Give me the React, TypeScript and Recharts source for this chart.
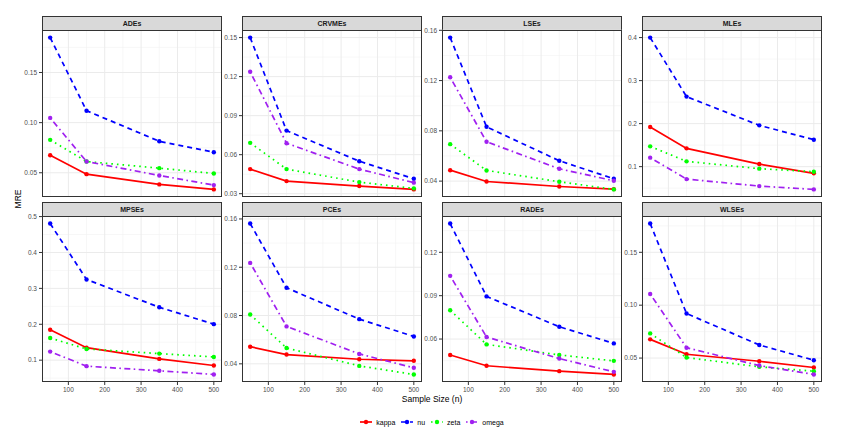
import React from 'react';
import { LineChart, Line, XAxis, YAxis, ReferenceLine } from 'recharts';

// sample sizes on the x axis
const sampleSizes = [50, 150, 350, 500];
const xTicks = [100, 200, 300, 400, 500];
const xMinor = [50, 150, 250, 350, 450];

const panelNames = ['ADEs', 'CRVMEs', 'LSEs', 'MLEs', 'MPSEs', 'PCEs', 'RADEs', 'WLSEs'];

// MRE per panel (rows follow panelNames), columns follow sampleSizes
const kappaMRE = [
  [0.0675, 0.0486, 0.0384, 0.0334],
  [0.0489, 0.0397, 0.0359, 0.0333],
  [0.0487, 0.0397, 0.0357, 0.0336],
  [0.192, 0.1425, 0.106, 0.0844],
  [0.1847, 0.1349, 0.1035, 0.0851],
  [0.0542, 0.0477, 0.0438, 0.0425],
  [0.049, 0.0415, 0.0378, 0.0355],
  [0.0677, 0.0536, 0.047, 0.0411],
];
const nuMRE = [
  [0.1848, 0.1119, 0.0814, 0.0705],
  [0.15, 0.0785, 0.055, 0.0415],
  [0.1542, 0.0832, 0.0562, 0.0419],
  [0.4, 0.2628, 0.196, 0.1627],
  [0.4806, 0.3248, 0.2474, 0.2004],
  [0.1562, 0.103, 0.077, 0.0627],
  [0.1399, 0.0895, 0.0685, 0.057],
  [0.1772, 0.0921, 0.0624, 0.048],
];
const zetaMRE = [
  [0.0828, 0.0612, 0.0546, 0.0493],
  [0.0691, 0.0489, 0.0389, 0.0341],
  [0.0694, 0.0485, 0.0395, 0.0334],
  [0.1472, 0.1123, 0.0953, 0.0883],
  [0.1616, 0.1312, 0.1183, 0.109],
  [0.0808, 0.0531, 0.0383, 0.0312],
  [0.0799, 0.0563, 0.049, 0.0449],
  [0.0733, 0.0505, 0.0417, 0.0376],
];
const omegaMRE = [
  [0.1047, 0.0612, 0.0473, 0.0377],
  [0.1237, 0.0688, 0.0489, 0.0385],
  [0.1226, 0.0713, 0.0498, 0.0403],
  [0.1209, 0.0711, 0.0548, 0.0471],
  [0.1238, 0.0833, 0.0704, 0.0602],
  [0.1236, 0.071, 0.0482, 0.0367],
  [0.1037, 0.0614, 0.0465, 0.0373],
  [0.1106, 0.0598, 0.0429, 0.0345],
];

const yTicks = [
  [0.05, 0.1, 0.15],
  [0.03, 0.06, 0.09, 0.12, 0.15],
  [0.04, 0.08, 0.12, 0.16],
  [0.1, 0.2, 0.3, 0.4],
  [0.1, 0.2, 0.3, 0.4, 0.5],
  [0.04, 0.08, 0.12, 0.16],
  [0.06, 0.09, 0.12],
  [0.05, 0.1, 0.15],
];
const yDecimals = [2, 2, 2, 1, 1, 2, 2, 2];

const series = [
  { key: 'kappa', values: kappaMRE, color: '#FF0000', dash: undefined },
  { key: 'nu', values: nuMRE, color: '#0000FF', dash: '5 4' },
  { key: 'zeta', values: zetaMRE, color: '#00FF00', dash: '1.6 4' },
  { key: 'omega', values: omegaMRE, color: '#A020F0', dash: '1.6 3.4 6 3.4' },
];

const FONT = '"Liberation Sans", Arial, sans-serif';
const COL_LEFT = [42, 242, 442, 642];
const ROW_TOP = [16, 202];
const PANEL_W = 180;
const STRIP_H = 14;
const PLOT_H = [167, 166];
const Y_AXIS_W = 26;
const X_AXIS_H = 14;
const PAD_T = 6;

const Panel = ({ idx }: { idx: number }) => {
  const row = Math.floor(idx / 4);
  const col = idx % 4;
  const left = COL_LEFT[col];
  const top = ROW_TOP[row];
  const plotH = PLOT_H[row];

  const data = sampleSizes.map((n, i) => {
    const d: Record<string, number> = { n };
    series.forEach((s) => {
      d[s.key] = s.values[idx][i];
    });
    return d;
  });

  // ggplot-like 5% expansion of the data range
  const all = series.flatMap((s) => s.values[idx]);
  const lo = Math.min(...all);
  const hi = Math.max(...all);
  const pad = (hi - lo) * 0.05;
  const domain: [number, number] = [lo - pad, hi + pad];

  const ticks = yTicks[idx];
  const step = ticks[1] - ticks[0];
  const minor = [ticks[0] - step / 2, ...ticks.map((t) => t + step / 2)].filter(
    (v) => v > domain[0] && v < domain[1]
  );

  const showX = row === 1;
  const tickStyle = { fontSize: 6.5, fill: '#4D4D4D', fontFamily: FONT };

  return (
    <>
      <div
        style={{
          position: 'absolute',
          left,
          top,
          width: PANEL_W,
          height: STRIP_H + 1,
          boxSizing: 'border-box',
          background: '#D9D9D9',
          border: '1px solid #333333',
          fontFamily: FONT,
          fontSize: 7,
          fontWeight: 'bold',
          color: '#1A1A1A',
          textAlign: 'center',
          lineHeight: `${STRIP_H - 1}px`,
        }}
      >
        {panelNames[idx]}
      </div>
      <div style={{ position: 'absolute', left: left - Y_AXIS_W, top: top + STRIP_H - PAD_T }}>
        <LineChart
          width={PANEL_W + Y_AXIS_W}
          height={plotH + PAD_T + (showX ? X_AXIS_H : 0)}
          data={data}
          margin={{ top: PAD_T, right: 0, bottom: 0, left: 0 }}
        >
          <XAxis
            dataKey="n"
            type="number"
            domain={[27.5, 522.5]}
            ticks={xTicks}
            hide={!showX}
            height={X_AXIS_H}
            axisLine={false}
            tickSize={3}
            tickLine={{ stroke: '#333333' }}
            tick={tickStyle}
            interval={0}
          />
          <YAxis
            type="number"
            domain={domain}
            ticks={ticks}
            width={Y_AXIS_W}
            axisLine={false}
            tickSize={3}
            tickLine={{ stroke: '#333333' }}
            tick={tickStyle}
            tickFormatter={(v: number) => v.toFixed(yDecimals[idx])}
            interval={0}
          />
          {minor.map((v) => (
            <ReferenceLine key={`ym${v}`} y={v} stroke="#F2F2F2" strokeWidth={0.6} />
          ))}
          {xMinor.map((v) => (
            <ReferenceLine key={`xm${v}`} x={v} stroke="#F2F2F2" strokeWidth={0.6} />
          ))}
          {ticks.map((v) => (
            <ReferenceLine key={`y${v}`} y={v} stroke="#EBEBEB" strokeWidth={1} />
          ))}
          {xTicks.map((v) => (
            <ReferenceLine key={`x${v}`} x={v} stroke="#EBEBEB" strokeWidth={1} />
          ))}
          {series.map((s) => (
            <Line
              key={s.key}
              dataKey={s.key}
              stroke={s.color}
              strokeWidth={1.7}
              strokeDasharray={s.dash}
              dot={{ r: 2.2, fill: s.color, stroke: 'none' }}
              activeDot={false}
              isAnimationActive={false}
            />
          ))}
        </LineChart>
      </div>
      <div
        style={{
          position: 'absolute',
          left,
          top: top + STRIP_H,
          width: PANEL_W,
          height: plotH,
          boxSizing: 'border-box',
          border: '1px solid #333333',
          pointerEvents: 'none',
        }}
      />
    </>
  );
};

const LegendKey = ({ color, dash }: { color: string; dash?: string }) => (
  <svg width={12} height={8} style={{ display: 'block' }}>
    <line x1={0} y1={4} x2={12} y2={4} stroke={color} strokeWidth={1.7} strokeDasharray={dash} />
    <circle cx={6} cy={4} r={2.2} fill={color} />
  </svg>
);

const App = () => (
  <div
    style={{
      position: 'absolute',
      left: 0,
      top: 0,
      width: 846,
      height: 437,
      background: '#FFFFFF',
      overflow: 'hidden',
    }}
  >
    {panelNames.map((_, i) => (
      <Panel key={i} idx={i} />
    ))}
    <div
      style={{
        position: 'absolute',
        left: 0,
        top: 199,
        transform: 'translate(0, -50%) rotate(-90deg)',
        transformOrigin: 'center',
        fontFamily: FONT,
        fontSize: 8.5,
        color: '#000',
        width: 36,
        textAlign: 'center',
      }}
    >
      MRE
    </div>
    <div
      style={{
        position: 'absolute',
        left: 332,
        width: 200,
        top: 394,
        textAlign: 'center',
        fontFamily: FONT,
        fontSize: 8.5,
        color: '#000',
      }}
    >
      Sample Size (n)
    </div>
    <div
      style={{
        position: 'absolute',
        left: 332,
        width: 200,
        top: 418,
        display: 'flex',
        justifyContent: 'center',
        alignItems: 'center',
        gap: 6,
        fontFamily: FONT,
        fontSize: 7,
        color: '#000',
      }}
    >
      {series.map((s) => (
        <div key={s.key} style={{ display: 'flex', alignItems: 'center', gap: 4 }}>
          <LegendKey color={s.color} dash={s.dash} />
          <span>{s.key}</span>
        </div>
      ))}
    </div>
  </div>
);

export default App;
